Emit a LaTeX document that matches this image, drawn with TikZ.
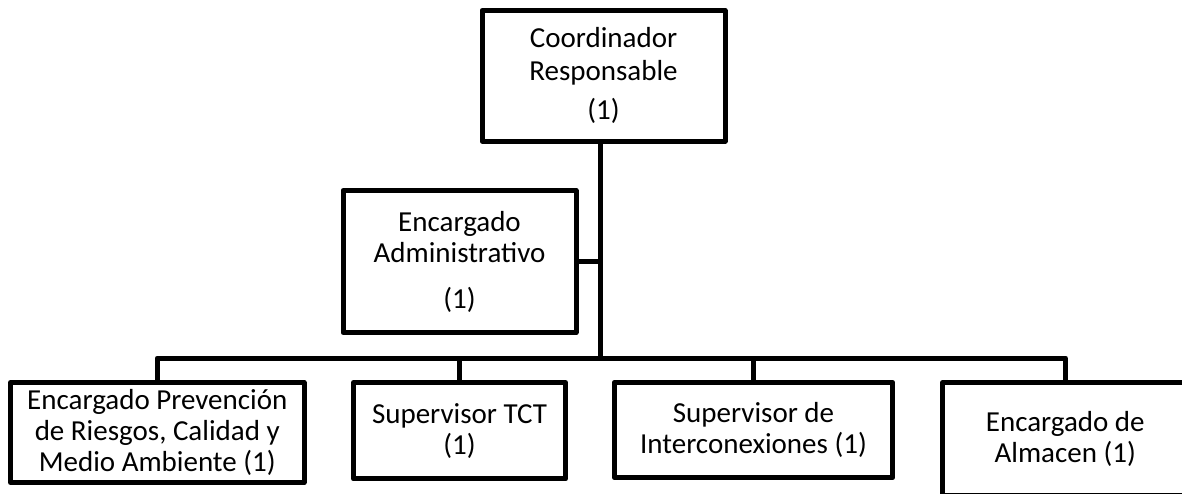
\documentclass[tikz,border=0pt]{standalone}
\usepackage{fontspec}
\setmainfont{Carlito}
\begin{document}
\begin{tikzpicture}[x=1pt,y=1pt,
    cargo/.style={draw, line width=5pt, line join=round, inner sep=0pt,
      align=center, font=\fontsize{29}{31}\selectfont}]
      \useasboundingbox (0,0) rectangle (1182,493);
      \draw
        (603.5,417.2) node[cargo, minimum width=243, minimum height=130.5] (coord)
          {Coordinador\\[2pt]Responsable\\[8pt](1)}
        (459.5,231.5) node[cargo, minimum width=233, minimum height=142] (admin)
          {Encargado\\Administrativo\\[15pt](1)}
        (157.25,60.5) node[cargo, minimum width=293.5, minimum height=100] (prev)
          {Encargado Prevención\\de Riesgos, Calidad y\\Medio Ambiente (1)}
        (459.5,62.3) node[cargo, minimum width=212, minimum height=96.5] (tct)
          {Supervisor TCT\\(1)}
        (753.5,63) node[cargo, minimum width=278, minimum height=95.5] (inter)
          {Supervisor de\\Interconexiones (1)}
        (1065.25,54.25) node[cargo, minimum width=245.5, minimum height=112.5] (alm)
          {Encargado de\\Almacen (1)};
      \coordinate (bar) at (600.5,135);
      \begin{scope}[line width=5pt, line join=round]
        \draw (coord.south -| bar) to (bar);
        \draw (admin.east) to (admin.east -| bar);
        \draw (prev.north) |- (bar) -| (alm.north);
        \draw (tct.north) to (tct.north |- bar);
        \draw (inter.north) to (inter.north |- bar);
      \end{scope}
    \end{tikzpicture}
\end{document}
